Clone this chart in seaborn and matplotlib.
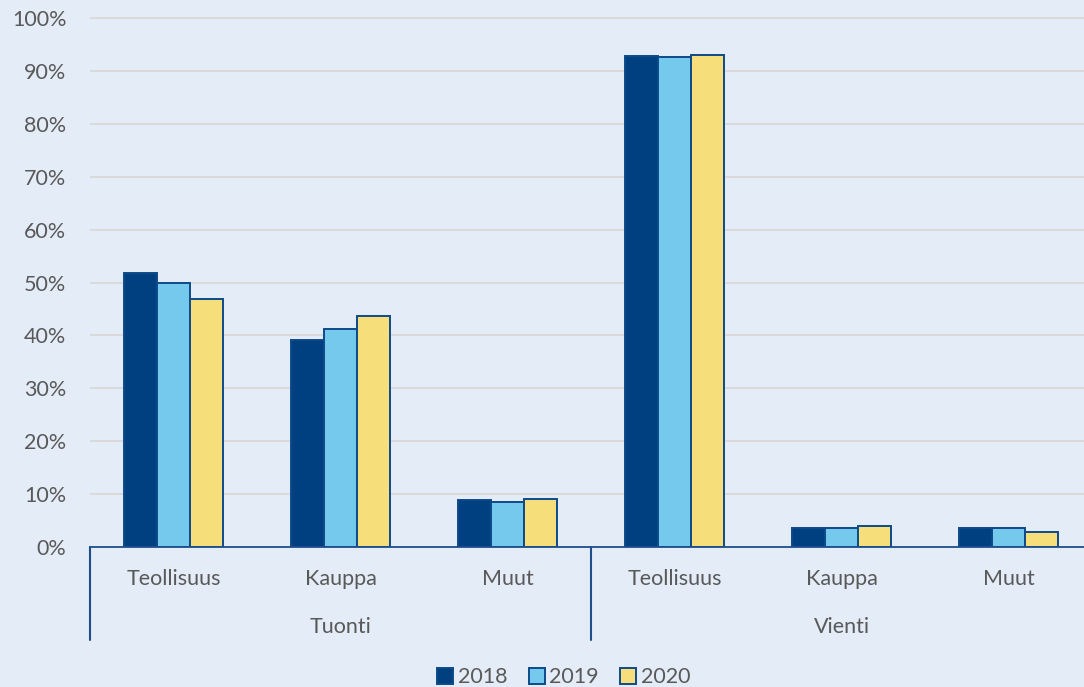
import seaborn as sns
import matplotlib.pyplot as plt
import pandas as pd
from matplotlib.ticker import PercentFormatter

# values (share, %)
groups = ["Tuonti", "Vienti"]
sectors = ["Teollisuus", "Kauppa", "Muut"]
years = ["2018", "2019", "2020"]
v2018 = [51.9, 39.2, 8.9, 92.8, 3.6, 3.6]
v2019 = [50.0, 41.3, 8.6, 92.6, 3.6, 3.6]
v2020 = [46.9, 43.7, 9.1, 93.1, 4.0, 2.9]

cats = [g + "|" + s for g in groups for s in sectors]
df = pd.DataFrame({"cat": cats * 3,
                   "year": [y for y in years for _ in cats],
                   "share": v2018 + v2019 + v2020})

bg = "#E4ECF7"
navy = "#1F4E8C"
txt = "#595959"
fs = 15.5

sns.set_style("white")
plt.rcParams["font.family"] = ["Lato", "DejaVu Sans"]

fig = plt.figure(figsize=(10.84, 6.87), dpi=100)
fig.patch.set_facecolor(bg)
ax = fig.add_axes([90 / 1084, 1 - 547 / 687, 1002 / 1084, (547 - 16) / 687])
ax.set_facecolor(bg)

ax = sns.barplot(data=df, x="cat", y="share", hue="year", order=cats,
                 hue_order=years, palette=["#004080", "#75C9EC", "#F6DE7B"],
                 width=0.59, edgecolor="#0D4A8A", linewidth=1.4, ax=ax,
                 saturation=1)

ax.set_ylim(0, 100.4)
ax.set_xlim(-0.5, 5.5)
ax.set_yticks(range(0, 101, 10))
ax.yaxis.set_major_formatter(PercentFormatter(decimals=0))
ax.grid(axis="y", color="#D9D9D9", linewidth=1.3)
ax.set_axisbelow(True)
for s in ["top", "right", "left"]:
    ax.spines[s].set_visible(False)
ax.spines["bottom"].set_color(navy)
ax.spines["bottom"].set_linewidth(1.3)

ax.set_xticks(range(6))
ax.set_xticklabels(sectors * 2)
ax.tick_params(axis="x", length=0, pad=16, labelsize=fs, labelcolor=txt)
ax.tick_params(axis="y", length=0, pad=17, labelsize=fs, labelcolor=txt)
ax.set_xlabel("")
ax.set_ylabel("")

# group labels and separators below the axis
trans = ax.get_xaxis_transform()
for i, g in enumerate(groups):
    ax.text(1 + 3 * i, -0.151, g, transform=trans, ha="center", va="center",
            fontsize=fs, color=txt)
for xpos in [-0.5, 2.5]:
    ax.plot([xpos, xpos], [0, -0.175], transform=trans, color=navy,
            linewidth=1.5, clip_on=False)

handles, labels = ax.get_legend_handles_labels()
ax.legend_.remove()
leg = fig.legend(handles, labels, loc="center", bbox_to_anchor=(0.52, 0.014),
                 ncol=3, frameon=False, fontsize=fs, handlelength=0.75,
                 handleheight=0.75, handletextpad=0.2, columnspacing=1.0)
for t in leg.get_texts():
    t.set_color(txt)

fig.savefig("out.png", dpi=100, facecolor=bg)
